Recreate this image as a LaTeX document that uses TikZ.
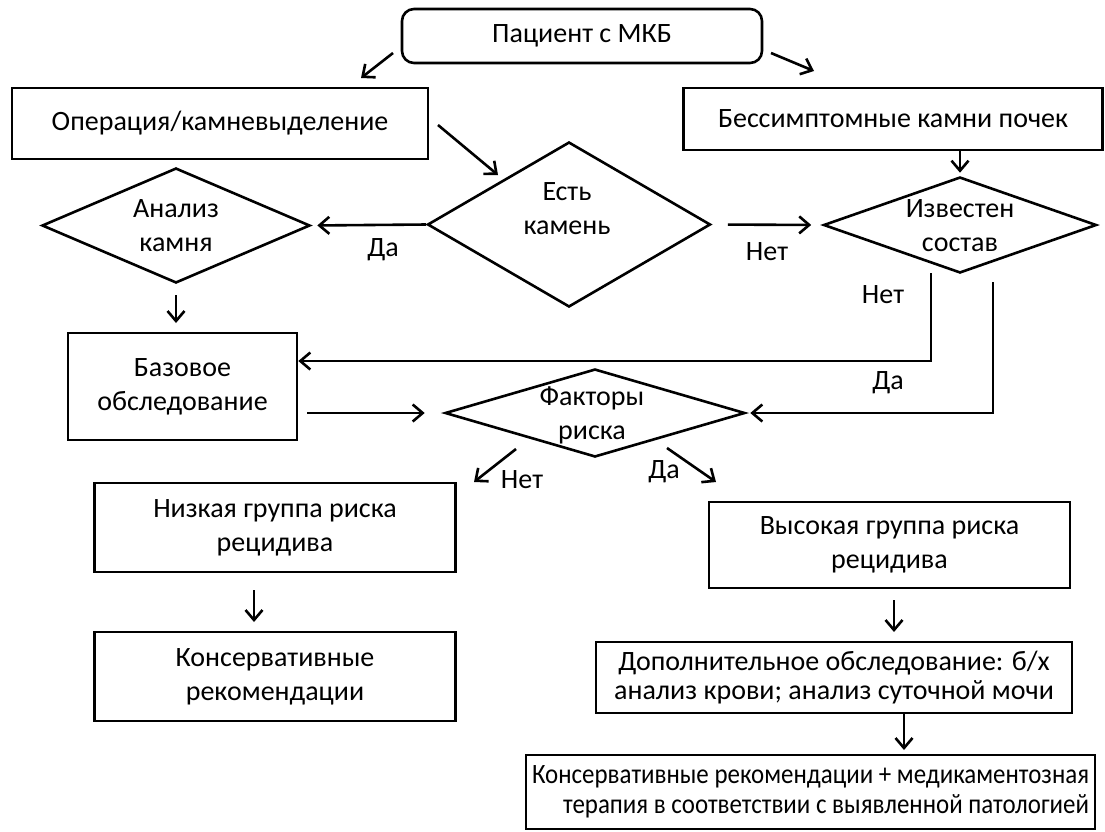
\documentclass[tikz,border=0pt]{standalone}
\usepackage{fontspec}
\setmainfont{Carlito}
\newfontfamily\condfont[FakeStretch=0.89]{Carlito}
\usetikzlibrary{arrows.meta,shapes.geometric,calc}
\begin{document}
\begin{tikzpicture}[x=1pt,y=-1pt,
  every node/.style={font=\fontsize{28}{34}\selectfont, inner sep=0pt},
  box/.style={draw, line width=2.6pt, rectangle, align=center},
  dia/.style={draw, line width=2.6pt, diamond, inner sep=0pt},
  txt/.style={align=center},
  conn/.style={line width=2.6pt, -{Straight Barb[length=10pt,width=17pt,line width=2.6pt]}},
  plain/.style={line width=2.6pt}]
\useasboundingbox (0,0) rectangle (1105,831);

% boxes
\node[box, rounded corners=12pt, minimum width=360pt, minimum height=54pt] (top) at (582,36) {Пациент с МКБ};
\node[box, minimum width=416pt, minimum height=71pt] (op) at (220,123.5) {Операция/камневыделение};
\node[box, minimum width=419pt, minimum height=62pt] (bes) at (893,119) {Бессимптомные камни почек};
\node[dia, minimum width=283pt, minimum height=165pt] (est) at (569,224.5) {};
\node[txt] (estT) at (567,209) {Есть\\камень};
\node[dia, minimum width=268pt, minimum height=115pt] (anal) at (176,225.5) {};
\node[txt] (analT) at (176,226) {Анализ\\камня};
\node[dia, minimum width=273pt, minimum height=96pt] (izv) at (960,225) {};
\node[txt] (izvT) at (960,225.5) {Известен\\состав};
\node[box, minimum width=229pt, minimum height=107pt] (baz) at (182.5,386.5) {Базовое\\обследование};
\node[dia, minimum width=300pt, minimum height=88pt] (fak) at (595,413) {};
\node[txt] (fakT) at (592,415) {Факторы\\риска};
\node[box, minimum width=361pt, minimum height=89pt] (low) at (275,527.5) {Низкая группа риска\\рецидива};
\node[box, minimum width=361pt, minimum height=89pt] (kons) at (275,676.5) {Консервативные\\рекомендации};
\node[box, minimum width=361pt, minimum height=86pt] (high) at (889.5,545) {Высокая группа риска\\рецидива};
\node[box, minimum width=476pt, minimum height=71pt, font=\fontsize{28}{29}\selectfont] (dop) at (834,677.5) {Дополнительное обследование: б/х\\анализ крови; анализ суточной мочи};
\node[box, minimum width=569pt, minimum height=74pt, align=right, inner xsep=5pt, font=\condfont\fontsize{28}{30}\selectfont] (fin) at (810.5,792) {Консервативные рекомендации + медикаментозная\\терапия в соответствии с выявленной патологией};

% free connector ends
\coordinate (a1s) at (393,53);  \coordinate (a1e) at (361,78);
\coordinate (a2s) at (771,53);  \coordinate (a2e) at (814,71);
\coordinate (a3s) at (438,125); \coordinate (a3e) at (498,175);
\coordinate (a5s) at (176,295); \coordinate (a5e) at (176,323);
\coordinate (n1) at (931,273);  \coordinate (n1b) at (931,361);
\coordinate (d1) at (993,282);
\coordinate (a11s) at (516,449); \coordinate (a11e) at (474,482);
\coordinate (a12s) at (667,448); \coordinate (a12e) at (716,482);
\coordinate (a13s) at (254,590); \coordinate (a13e) at (254,622);
\coordinate (a14s) at (894,600); \coordinate (a14e) at (894,632);
\coordinate (a15e) at (904,750);

% connectors
\draw[conn] (a1s) -- (a1e);
\draw[conn] (a2s) -- (a2e);
\draw[conn] (a3s) -- (a3e);
\draw[conn, shorten >=6pt] (est.west) -- (anal.east);
\draw[conn] (a5s) -- (a5e);
\draw[conn, shorten <=16pt, shorten >=11pt] (est.east) -- (izv.west);
\draw[conn, shorten >=3pt] (izv.north |- bes.south) -- (izv.north);
\draw[conn] (n1) -- (n1b) -- (n1b -| baz.east);
\draw[conn, shorten >=4pt] (d1) |- (fak.east);
\draw[conn, shorten <=9pt, shorten >=19pt] (baz.east |- fak.west) -- (fak.west);
\draw[conn] (a11s) -- (a11e);
\draw[conn] (a12s) -- (a12e);
\draw[conn] (a13s) -- (a13e);
\draw[conn] (a14s) -- (a14e);
\draw[conn] (dop.south -| a15e) -- (a15e);

% labels
\node (l1) at (383,250) {Да};
\node (l2) at (767,252) {Нет};
\node (l3) at (883,295) {Нет};
\node (l4) at (888,383) {Да};
\node (l5) at (522,480) {Нет};
\node (l6) at (664,472) {Да};
\end{tikzpicture}
\end{document}
